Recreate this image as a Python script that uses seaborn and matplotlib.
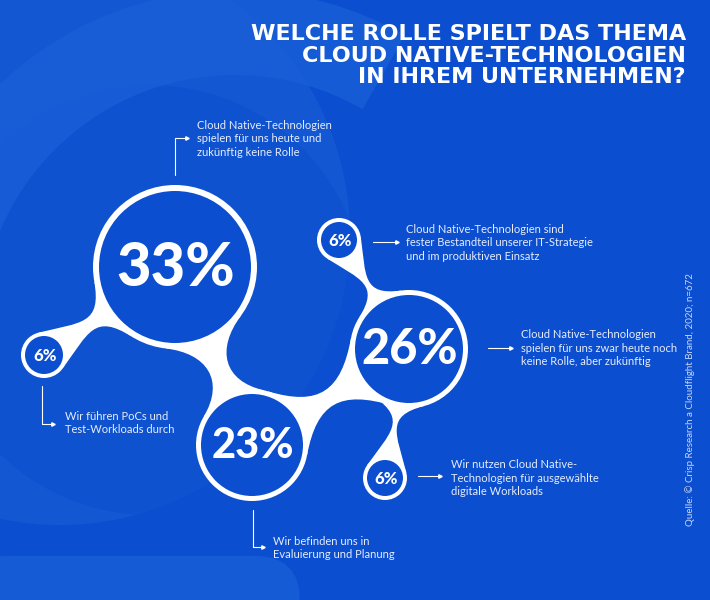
import numpy as np
import matplotlib
matplotlib.use("Agg")
import matplotlib.pyplot as plt
import seaborn as sns
from matplotlib.path import Path
from matplotlib.patches import Circle, PathPatch, Wedge, FancyBboxPatch

# --- data -------------------------------------------------------------
shares = [33, 26, 23, 6, 6, 6]
answers = [
    "Cloud Native-Technologien\nspielen für uns heute und\nzukünftig keine Rolle",
    "Cloud Native-Technologien\nspielen für uns zwar heute noch\nkeine Rolle, aber zukünftig",
    "Wir befinden uns in\nEvaluierung und Planung",
    "Cloud Native-Technologien sind\nfester Bestandteil unserer IT-Strategie\nund im produktiven Einsatz",
    "Wir führen PoCs und\nTest-Workloads durch",
    "Wir nutzen Cloud Native-\nTechnologien für ausgewählte\ndigitale Workloads",
]
title = "WELCHE ROLLE SPIELT DAS THEMA\nCLOUD NATIVE-TECHNOLOGIEN\nIN IHREM UNTERNEHMEN?"
source = "Quelle: © Crisp Research a Cloudflight Brand, 2020; n=672"

# --- layout (pixel units, y pointing down) ------------------------------
bubble_x = [175, 409, 252, 339, 44, 385]
bubble_y = [267, 349, 445, 240, 355, 478]
bubble_r = [82, 59, 56, 22, 23, 22]
ring_w = [6, 5, 5, 4, 4, 4]
pct_size = [43, 35, 30, 12, 12, 12]
# (from, to, attach angle on from, attach angle on to, tension)
links = [(0, 4, 24, 70, 0.55), (0, 2, 30, 36, 0.45), (2, 1, 42, 42, 0.5),
         (1, 3, 25, 65, 0.55), (1, 5, 25, 65, 0.55)]
leaders = [
    [(175, 175), (175, 138), (187, 138)],
    [(488, 348), (511, 348)],
    [(253, 510), (253, 547), (263, 547)],
    [(373, 242), (397, 242)],
    [(42, 386), (42, 424), (53, 424)],
    [(418, 476), (440, 476)],
]
text_x = [197, 521, 273, 406, 65, 451]
text_y = [139, 348, 548, 243, 423, 478]

BLUE = "#0b4ecf"
LIGHT = "#1a5fd8"
WHITE = "#ffffff"

sns.set_theme(style="white")
plt.rcParams["font.family"] = ["Lato", "DejaVu Sans"]


def neck(i, j, aa, ab, t):
    ca = np.array([bubble_x[i], bubble_y[i]], float)
    cb = np.array([bubble_x[j], bubble_y[j]], float)
    ra, rb = bubble_r[i], bubble_r[j]
    d = cb - ca
    dist = np.hypot(*d)
    u = d / dist
    n = np.array([-u[1], u[0]])
    gap = dist - ra - rb
    a, b = np.radians(aa), np.radians(ab)
    k = t * (gap + 0.5 * (ra * np.sin(a) + rb * np.sin(b)))
    sides = []
    for s in (1, -1):
        pa = ca + ra * (np.cos(a) * u + s * np.sin(a) * n)
        pb = cb + rb * (-np.cos(b) * u + s * np.sin(b) * n)
        ta = np.sin(a) * u - s * np.cos(a) * n
        tb = -np.sin(b) * u - s * np.cos(b) * n
        sides.append((pa, pa + k * ta, pb + k * tb, pb))
    (p0, c1, c2, p1), (q0, d1, d2, q1) = sides
    verts = [p0, c1, c2, p1, q1, d2, d1, q0, p0]
    codes = [Path.MOVETO, Path.CURVE4, Path.CURVE4, Path.CURVE4,
             Path.LINETO, Path.CURVE4, Path.CURVE4, Path.CURVE4, Path.CLOSEPOLY]
    return PathPatch(Path(verts, codes), fc=WHITE, ec="none", zorder=2)


fig = plt.figure(figsize=(7.1, 6), dpi=100)
fig.patch.set_facecolor(BLUE)
ax = fig.add_axes([0, 0, 1, 1])
ax.set_xlim(0, 710)
ax.set_ylim(600, 0)
ax.set_facecolor(BLUE)
ax.axis("off")

# soft background shapes
ax.add_patch(Circle((60, 235), 290, fc=LIGHT, ec="none", alpha=0.55, zorder=0))
ax.add_patch(Circle((150, 300), 215, fc=BLUE, ec="none", alpha=0.5, zorder=0))
ax.add_patch(Wedge((235, 330), 340, 185, 300, width=85, fc=LIGHT, ec="none",
                   alpha=0.8, zorder=0))
ax.add_patch(FancyBboxPatch((-40, 556), 340, 80, boxstyle="round,pad=0,rounding_size=45",
                            fc=LIGHT, ec="none", alpha=0.8, zorder=0))

for lk in links:
    ax.add_patch(neck(*lk))

for k in range(len(shares)):
    ax.add_patch(Circle((bubble_x[k], bubble_y[k]), bubble_r[k], fc=WHITE, ec="none", zorder=3))
    ax.add_patch(Circle((bubble_x[k], bubble_y[k]), bubble_r[k] - ring_w[k], fc=BLUE,
                        ec="none", zorder=4))
    ax.text(bubble_x[k] + 1, bubble_y[k] + 1, f"{shares[k]}%", ha="center", va="center",
            color=WHITE, fontsize=pct_size[k], fontweight=900, zorder=5)
    pts = np.array(leaders[k])
    ax.plot(pts[:, 0], pts[:, 1], color=WHITE, lw=0.8, zorder=5)
    ax.plot(pts[-1, 0], pts[-1, 1], marker=">", ms=2.5, color=WHITE, zorder=5)
    ax.text(text_x[k], text_y[k], answers[k], ha="left", va="center", color="#e6edfb",
            fontsize=8, linespacing=1.25, zorder=5)

ax.text(686, 24, title, ha="right", va="top", color=WHITE, fontsize=16,
        fontweight="bold", family=["DejaVu Sans"], linespacing=1.1, zorder=5)
ax.text(690, 400, source, rotation=90, ha="center", va="center", color="#c9d7f6",
        fontsize=7, zorder=5)

fig.savefig("out.png", dpi=100, facecolor=BLUE)
